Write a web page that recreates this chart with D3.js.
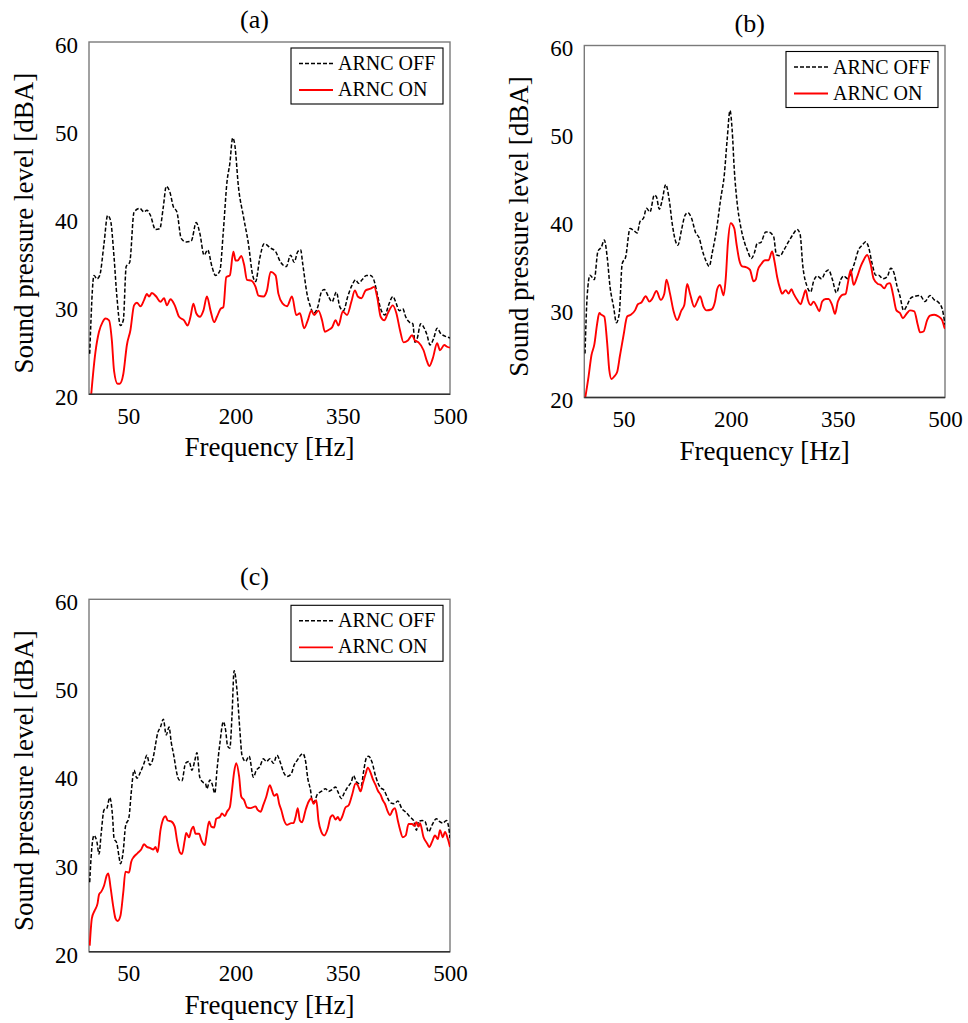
<!DOCTYPE html>
<html>
<head>
<meta charset="utf-8">
<script src="https://cdn.jsdelivr.net/npm/d3@7"></script>
<style>
  html, body { margin: 0; padding: 0; background: #fff; }
  svg { display: block; }
  text { font-family: "Liberation Serif", "Times New Roman", serif; fill: #000; }
</style>
</head>
<body>
<svg id="chart" width="968" height="1023"></svg>
<script>
// ---------------- data ----------------
const seriesNames = ["ARNC OFF", "ARNC ON"];
const panelTitles = ["(a)", "(b)", "(c)"];
const xTicks = [50, 200, 350, 500];
const yTicks = [20, 30, 40, 50, 60];
const xLabel = "Frequency [Hz]";
const yLabel = "Sound pressure level [dBA]";

// [frequency (Hz), sound pressure level (dBA)]
const aOff = [[-4,24.6],[2,33.5],[6,33.1],[10,33.5],[16,37.1],[21,40.3],[25,39.8],[30,35.6],[34,31.1],[39,27.8],[43,28.4],[47,34.5],[52,35.0],[58,40.7],[66,41.1],[72,40.7],[76,40.9],[81,40.3],[88,38.7],[94,38.8],[99,41.3],[103,43.6],[108,43.0],[113,41.3],[118,40.7],[124,37.7],[131,37.3],[138,37.4],[145,39.5],[150,38.3],[156,35.8],[161,36.4],[167,34.5],[172,33.5],[178,34.0],[183,38.6],[188,44.1],[192,46.2],[196,49.1],[199,48.3],[204,43.6],[211,40.2],[218,37.1],[224,33.5],[228,32.8],[234,35.5],[240,37.1],[249,36.6],[256,36.2],[263,35.0],[271,34.5],[277,35.8],[282,35.0],[287,36.2],[291,36.4],[294,34.8],[300,31.4],[305,29.9],[309,29.2],[315,29.9],[320,31.6],[324,31.9],[330,31.1],[335,30.5],[341,31.6],[346,29.9],[351,29.5],[357,31.1],[363,32.4],[368,33.0],[372,32.6],[377,33.0],[383,33.5],[389,33.5],[393,33.1],[399,31.1],[403,29.7],[409,29.0],[414,30.1],[420,31.1],[424,30.5],[429,29.5],[434,29.7],[438,28.8],[443,28.2],[448,28.0],[451,25.9],[454,26.3],[459,28.0],[464,27.5],[468,26.7],[472,25.6],[477,26.3],[482,27.5],[487,26.9],[493,26.6],[500,26.4]];
const aOn = [[-4,18.0],[4,24.8],[9,27.1],[14,28.2],[18,28.6],[23,28.4],[27,26.1],[30,22.7],[35,21.2],[38,21.2],[43,22.3],[48,25.6],[53,27.3],[58,30.1],[62,30.4],[67,30.0],[72,30.7],[76,31.4],[79,31.1],[83,31.5],[89,31.1],[95,30.5],[100,30.9],[104,30.1],[109,30.8],[115,30.1],[121,28.8],[128,28.4],[133,27.8],[137,28.8],[141,30.3],[145,29.2],[150,28.8],[155,29.5],[160,31.1],[165,29.5],[170,28.2],[174,28.8],[179,29.7],[183,29.9],[187,33.3],[192,33.5],[197,36.2],[200,35.2],[203,35.2],[208,35.7],[212,34.7],[216,33.0],[222,32.9],[228,32.2],[232,31.2],[239,31.1],[244,31.8],[249,33.9],[256,33.5],[260,31.4],[266,30.3],[272,30.0],[279,31.1],[285,29.0],[290,29.2],[296,27.5],[301,28.4],[306,29.5],[310,29.0],[316,29.5],[321,28.4],[325,27.1],[330,27.3],[335,27.6],[340,28.4],[344,27.8],[350,29.4],[356,29.0],[362,30.5],[367,31.8],[371,31.1],[376,30.9],[382,31.8],[389,32.0],[394,32.2],[398,31.1],[403,28.8],[408,28.4],[413,29.2],[420,30.1],[425,29.2],[430,27.3],[435,25.9],[441,26.1],[447,26.7],[451,26.1],[456,25.9],[463,25.0],[468,23.7],[471,23.2],[476,24.1],[482,25.8],[486,25.0],[492,25.6],[496,25.4],[500,25.3]];

const bOff = [[-4,25.0],[-1,31.5],[3,33.9],[9,33.4],[14,36.6],[19,37.1],[23,37.9],[27,36.0],[31,32.6],[36,30.3],[40,28.5],[44,29.6],[48,35.2],[53,36.0],[59,39.2],[64,39.0],[69,38.7],[73,40.0],[78,40.4],[82,41.5],[87,41.1],[93,43.0],[96,42.8],[100,41.4],[104,42.4],[109,44.2],[114,42.4],[118,39.8],[123,37.7],[126,37.3],[131,39.0],[136,40.7],[140,41.0],[145,40.4],[151,38.7],[156,38.1],[160,36.8],[165,35.6],[170,34.9],[174,36.4],[180,39.0],[186,42.6],[191,45.3],[195,49.3],[199,52.6],[202,50.4],[205,45.9],[209,42.1],[214,39.4],[219,37.7],[223,36.8],[229,35.8],[233,36.4],[237,37.5],[242,37.6],[249,38.8],[253,38.8],[260,38.3],[264,36.2],[269,36.1],[274,36.7],[281,37.7],[287,38.5],[293,39.1],[297,38.6],[301,34.9],[307,32.6],[312,32.0],[316,33.2],[321,33.8],[327,33.5],[333,34.3],[337,34.5],[342,33.5],[348,31.9],[354,33.4],[358,33.8],[364,33.5],[369,34.3],[373,35.2],[379,36.8],[384,37.3],[389,37.7],[393,37.1],[398,35.2],[403,33.9],[407,33.9],[413,33.5],[419,33.7],[424,34.7],[428,34.3],[433,32.6],[437,31.5],[442,29.9],[447,30.5],[452,31.3],[458,31.5],[465,31.6],[472,30.9],[479,31.6],[485,31.1],[491,30.8],[496,30.1],[499,28.8],[500,28.2]];
const bOn = [[-4,19.8],[1,22.4],[5,24.8],[9,26.0],[13,28.4],[16,29.6],[19,29.4],[23,29.2],[27,26.2],[30,23.1],[33,22.1],[37,22.4],[41,22.9],[45,24.8],[50,27.1],[55,29.2],[60,29.4],[66,29.9],[70,30.6],[75,30.8],[81,31.5],[86,30.9],[90,31.2],[96,32.1],[102,31.1],[107,31.8],[110,33.4],[115,31.8],[120,29.8],[125,28.8],[131,29.9],[135,30.5],[139,32.9],[143,31.8],[149,30.3],[153,30.9],[157,31.5],[162,30.3],[166,29.9],[173,30.0],[178,30.9],[181,32.3],[185,32.8],[190,31.6],[193,33.5],[196,37.5],[200,39.8],[205,39.2],[208,37.5],[212,35.6],[216,34.9],[222,34.8],[227,34.5],[232,33.2],[235,33.4],[238,34.5],[243,35.2],[248,35.6],[253,35.6],[258,36.6],[261,35.6],[265,33.7],[269,32.4],[272,31.8],[277,32.2],[281,31.8],[285,32.3],[288,31.8],[293,31.1],[298,30.6],[301,31.3],[305,32.2],[308,31.1],[312,30.5],[316,30.9],[320,30.4],[324,29.8],[328,30.9],[333,31.2],[337,31.2],[342,30.5],[346,29.5],[350,30.9],[355,31.6],[361,31.8],[364,33.0],[368,34.5],[372,32.8],[377,33.7],[382,34.9],[386,35.6],[391,36.2],[396,35.1],[400,33.5],[406,32.9],[410,32.8],[415,32.4],[419,32.9],[423,33.0],[427,31.8],[432,29.9],[437,29.6],[441,29.0],[447,29.6],[451,29.9],[457,29.8],[462,28.2],[465,27.4],[470,27.5],[475,28.8],[479,29.3],[485,29.4],[491,29.2],[496,28.8],[499,28.0],[500,27.8]];

const cOff = [[-4,27.9],[-2,30.8],[2,33.2],[6,32.5],[9,31.1],[12,33.4],[16,36.1],[20,36.3],[24,37.5],[28,35.3],[30,32.9],[34,32.3],[37,30.8],[39,30.0],[43,31.5],[46,34.2],[51,35.3],[54,38.0],[58,40.6],[62,39.7],[67,40.4],[72,41.4],[76,42.3],[80,41.2],[85,42.1],[88,43.5],[91,44.8],[95,45.5],[99,46.4],[103,44.6],[107,45.5],[110,43.8],[114,42.1],[117,40.6],[121,39.5],[125,39.4],[130,41.4],[135,41.6],[139,40.6],[143,41.7],[146,42.6],[150,39.8],[155,39.2],[158,39.1],[160,38.5],[164,39.5],[167,39.1],[171,38.0],[174,40.6],[178,43.6],[183,46.1],[186,45.2],[189,43.3],[192,43.1],[195,46.7],[198,51.9],[202,49.7],[206,45.2],[209,42.3],[214,41.6],[219,42.2],[225,39.8],[229,40.6],[234,41.0],[239,41.9],[243,41.6],[248,41.9],[253,41.4],[258,42.3],[263,41.4],[267,40.4],[272,39.9],[278,40.2],[282,41.2],[286,41.7],[291,42.3],[294,42.5],[298,41.6],[301,39.7],[305,38.3],[307,37.2],[310,37.0],[314,37.8],[320,38.2],[326,38.5],[330,38.2],[335,38.4],[340,38.7],[343,38.2],[348,37.4],[352,38.0],[357,38.7],[362,39.3],[365,40.0],[369,39.3],[372,39.1],[376,38.9],[379,40.4],[383,42.0],[386,42.2],[391,41.5],[396,39.9],[402,38.7],[408,38.3],[413,37.4],[417,36.9],[422,36.8],[427,37.1],[433,36.2],[439,35.8],[444,35.3],[449,34.9],[453,33.8],[456,34.8],[461,34.9],[465,34.8],[470,33.6],[475,34.4],[481,35.1],[485,34.8],[490,34.6],[495,34.9],[498,34.2],[500,32.9]];
const cOn = [[-4,20.7],[-1,23.8],[3,24.7],[7,25.5],[9,26.5],[12,26.8],[16,27.5],[20,28.7],[22,28.9],[25,27.4],[29,25.1],[32,23.8],[35,23.5],[39,24.1],[43,26.8],[46,29.1],[51,29.0],[54,30.2],[58,30.8],[63,31.2],[68,31.6],[72,32.2],[76,31.9],[80,31.8],[85,31.6],[88,31.9],[91,31.3],[95,33.8],[99,35.1],[102,35.4],[105,34.9],[110,34.8],[115,34.2],[118,32.7],[122,31.3],[125,31.1],[129,32.7],[131,33.5],[135,33.0],[138,33.8],[141,34.2],[144,33.4],[149,33.4],[152,32.7],[157,32.1],[159,33.0],[163,34.8],[166,34.2],[170,34.1],[173,35.1],[178,35.3],[181,35.7],[185,35.4],[188,35.9],[192,36.4],[195,38.3],[198,40.4],[201,41.4],[205,39.9],[208,37.6],[212,37.2],[216,36.4],[221,36.3],[228,36.5],[231,36.1],[235,35.9],[239,36.7],[243,37.6],[248,38.9],[251,38.3],[254,37.7],[258,37.9],[261,36.8],[264,36.1],[268,34.9],[272,34.4],[278,34.6],[281,34.6],[284,35.3],[287,36.3],[290,34.9],[293,34.7],[298,36.1],[302,37.0],[306,37.4],[309,36.8],[313,37.2],[316,34.9],[320,33.6],[324,33.2],[329,34.0],[333,35.3],[336,35.5],[340,35.0],[343,35.3],[346,34.9],[349,35.3],[354,36.4],[358,36.6],[363,37.8],[368,39.1],[371,38.9],[375,38.2],[378,39.1],[382,40.2],[385,40.9],[389,40.3],[392,39.6],[396,38.9],[399,38.3],[403,37.8],[406,37.2],[409,36.8],[413,35.9],[416,35.5],[420,36.1],[423,36.3],[427,34.9],[430,33.9],[434,33.0],[438,33.2],[442,34.5],[447,34.5],[450,34.3],[453,34.7],[456,34.2],[458,34.6],[463,33.0],[468,32.3],[471,31.9],[475,32.5],[479,33.2],[483,32.8],[486,33.8],[490,33.0],[493,33.6],[497,32.8],[500,31.9]];

// ---------------- layout ----------------
const FONT = '"Liberation Serif", "Times New Roman", serif';
const panels = [
  { title: panelTitles[0], off: aOff, on: aOn, left: 89,    top: 42,    w: 361,   h: 352.3 },
  { title: panelTitles[1], off: bOff, on: bOn, left: 584.3, top: 45.5,  w: 360.7, h: 352 },
  { title: panelTitles[2], off: cOff, on: cOn, left: 89,    top: 599.3, w: 361,   h: 352.5 }
];

const svg = d3.select("#chart");
svg.append("rect").attr("width", 968).attr("height", 1023).attr("fill", "#fff");
const defs = svg.append("defs");

panels.forEach((p, i) => {
  const x = d3.scaleLinear().domain([-5, 500]).range([p.left, p.left + p.w]);
  const y = d3.scaleLinear().domain([20, 60]).range([p.top + p.h, p.top]);
  const g = svg.append("g");

  const clipId = "clip" + i;
  defs.append("clipPath").attr("id", clipId)
    .append("rect").attr("x", p.left).attr("y", p.top).attr("width", p.w).attr("height", p.h);

  // frame
  g.append("rect")
    .attr("x", p.left).attr("y", p.top).attr("width", p.w).attr("height", p.h)
    .attr("fill", "none").attr("stroke", "#7a7a7a").attr("stroke-width", 1.4);

  const line = d3.line().x(d => x(d[0])).y(d => y(d[1])).curve(d3.curveMonotoneX);
  const plot = g.append("g").attr("clip-path", `url(#${clipId})`);
  plot.append("path").datum(p.off).attr("d", line)
    .attr("fill", "none").attr("stroke", "#000").attr("stroke-width", 1.5)
    .attr("stroke-dasharray", "4,2");
  plot.append("path").datum(p.on).attr("d", line)
    .attr("fill", "none").attr("stroke", "#ff0000").attr("stroke-width", 1.9);

  // bottom axis line
  g.append("line")
    .attr("x1", p.left).attr("x2", p.left + p.w)
    .attr("y1", p.top + p.h).attr("y2", p.top + p.h)
    .attr("stroke", "#333").attr("stroke-width", 1.4);

  // axes
  const xa = g.append("g").attr("transform", `translate(0,${p.top + p.h})`)
    .call(d3.axisBottom(x).tickValues(xTicks).tickSize(0).tickPadding(13));
  xa.attr("font-family", FONT);
  xa.select(".domain").remove();
  xa.selectAll("text").attr("font-family", FONT).attr("font-size", 23).attr("fill", "#000");

  const ya = g.append("g").attr("transform", `translate(${p.left},0)`)
    .call(d3.axisLeft(y).tickValues(yTicks).tickSize(0).tickPadding(11));
  ya.attr("font-family", FONT);
  ya.select(".domain").remove();
  ya.selectAll("text").attr("font-family", FONT).attr("font-size", 23).attr("fill", "#000")
    .attr("dy", "0.45em");

  // titles
  g.append("text").attr("x", p.left + p.w / 2 - 15).attr("y", p.top - 14)
    .attr("text-anchor", "middle").attr("font-size", 26).text(p.title);
  g.append("text").attr("x", p.left + p.w / 2).attr("y", p.top + p.h + 62)
    .attr("text-anchor", "middle").attr("font-size", 27).text(xLabel);
  g.append("text")
    .attr("transform", `translate(${p.left - 56},${p.top + p.h / 2 + 5}) rotate(-90)`)
    .attr("text-anchor", "middle").attr("font-size", 27).text(yLabel);

  // legend
  const lx = p.left + p.w - 7 - 152, ly = p.top + 6;
  const lg = g.append("g");
  lg.append("rect").attr("x", lx).attr("y", ly).attr("width", 152).attr("height", 56)
    .attr("fill", "#fff").attr("stroke", "#000").attr("stroke-width", 1.1);
  lg.append("line").attr("x1", lx + 8).attr("x2", lx + 42).attr("y1", ly + 15.5).attr("y2", ly + 15.5)
    .attr("stroke", "#000").attr("stroke-width", 1.4).attr("stroke-dasharray", "4,2");
  lg.append("line").attr("x1", lx + 8).attr("x2", lx + 42).attr("y1", ly + 42).attr("y2", ly + 42)
    .attr("stroke", "#ff0000").attr("stroke-width", 1.8);
  lg.append("text").attr("x", lx + 47).attr("y", ly + 22).attr("font-size", 20).text(seriesNames[0]);
  lg.append("text").attr("x", lx + 47).attr("y", ly + 48).attr("font-size", 20).text(seriesNames[1]);
});
</script>
</body>
</html>
